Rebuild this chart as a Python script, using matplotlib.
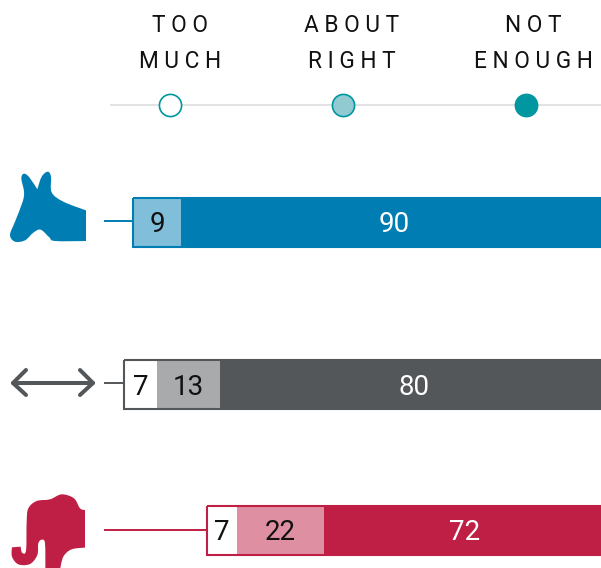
import matplotlib
matplotlib.use("Agg")
import matplotlib.pyplot as plt
from matplotlib.path import Path
from matplotlib.patches import PathPatch

plt.rcParams['font.family'] = ['Roboto', 'DejaVu Sans']

# Printed labels
groups = ["Democrats", "Independents", "Republicans"]
too_much = [9, 7, 7]
about_right = [None, 13, 22]
not_enough = [90, 80, 72]
# Bar lengths as drawn in the picture (the graphic's lengths differ a little from its labels)
start_drawn = [1.9, 0.0, 17.1]
too_much_drawn = [9.9, 6.8, 6.2]
about_right_drawn = [0.0, 13.0, 17.9]
not_enough_drawn = [87.8, 80.0, 58.1]
headers = ["T O O\nM U C H", "A B O U T\nR I G H T", "N O T\nE N O U G H"]

W, H = 601, 568
PX = 4.85
ROW_Y = [222, 384.7, 530.3]
LINK_Y = [221.3, 383.3, 530]
DARK = ["#007db3", "#54575a", "#c01f45"]
MID = ["#80bed9", "#a9aaac", "#df8fa2"]
LIGHT = ["#80bed9", "#ffffff", "#ffffff"]

fig = plt.figure(figsize=(W / 100, H / 100), dpi=100)
px = fig.add_axes([0, 0, 1, 1])
px.set_xlim(0, W); px.set_ylim(H, 0); px.axis("off")
ax = fig.add_axes([0, 0, 1, 1], sharey=px)
ax.set_xlim(-124 / PX, (W - 124) / PX)
ax.axis("off"); ax.patch.set_alpha(0)


def blob(points, color, oy=0):
    pts = [(x / 3, y / 3 + oy) for x, y in points]
    n = len(pts)
    v = [pts[0]]
    c = [Path.MOVETO]
    for i in range(n):
        p0, p1, p2, p3 = pts[i - 1], pts[i], pts[(i + 1) % n], pts[(i + 2) % n]
        if p1 == p2:
            continue
        c1 = (p1[0] + (p2[0] - p0[0]) / 6, p1[1] + (p2[1] - p0[1]) / 6)
        c2 = (p2[0] - (p3[0] - p1[0]) / 6, p2[1] - (p3[1] - p1[1]) / 6)
        if p0 == p1:
            c1 = p1
        if p2 == p3:
            c2 = p2
        v += [c1, c2, p2]
        c += [Path.CURVE4] * 3
    px.add_patch(PathPatch(Path(v, c), fc=color, ec="none"))


donkey = [(30, 225), (45, 185), (68, 125), (72, 95), (64, 55), (72, 41), (88, 52), (112, 88), (112, 88),
          (125, 50), (143, 35), (153, 50), (155, 97), (190, 125), (258, 151), (258, 151), (258, 243), (258, 243),
          (165, 243), (148, 232), (122, 209), (100, 218), (75, 241), (45, 245)]
elephant = [(80, 125), (85, 85), (110, 63), (150, 58), (185, 43), (222, 55), (240, 85), (255, 90), (255, 90),
            (255, 203), (255, 203), (215, 208), (190, 230), (180, 270), (180, 270), (136, 270), (136, 270),
            (135, 190), (125, 179), (115, 190), (112, 225), (90, 252), (55, 253), (36, 230), (36, 202), (36, 202),
            (62, 200), (62, 200), (66, 218), (78, 212)]
blob(donkey, DARK[0], oy=160)
blob(elephant, DARK[2], oy=480)

for xs, ys in [([13, 93], [383, 383]), ([26, 13, 26], [370, 383, 395]), ([80, 93, 80], [370, 383, 395])]:
    px.plot(xs, ys, color=DARK[1], lw=2.9, solid_capstyle="round", solid_joinstyle="round")

px.plot([111, W], [105, 105], color="#dddddd", lw=1.2, zorder=1)
centers = [169.5, 342.5, 525.5]
label_x = [180, 352, 533]
for cx, lx, fc, label in zip(centers, label_x, ["#ffffff", "#91cbd1", "#0097a0"], headers):
    px.scatter([cx], [105], s=255, fc=fc, ec="#0097a0", lw=1.2, zorder=2)
    l1, l2 = label.split("\n")
    for t, y in ((l1, 25.5), (l2, 62)):
        px.text(lx, y, t, ha="center", va="center", fontsize=16.3, color="#111111")

h = 49
for i, y in enumerate(ROW_Y):
    s = start_drawn[i]
    a, b, c = too_much_drawn[i], about_right_drawn[i], not_enough_drawn[i]
    startpx = 124 + s * PX
    px.plot([105, startpx], [LINK_Y[i]] * 2, color=DARK[i], lw=1.4, zorder=1)
    ax.barh(y, c, left=s + a + b, height=h, color=DARK[i], lw=0)
    if b:
        ax.barh(y, b, left=s + a, height=h, color=MID[i], lw=0)
    ax.barh(y, a, left=s, height=h, color=LIGHT[i], lw=0)
    ax.barh(y, a + b + c, left=s, height=h, color="none", ec=DARK[i], lw=1.5, zorder=3)
    ax.text(s + a / 2, y + 2.5, str(too_much[i]), ha="center", va="center", fontsize=20, color="#111111", zorder=4)
    if about_right[i] is not None:
        ax.text(s + a + b / 2, y + 2.5, str(about_right[i]), ha="center", va="center", fontsize=20, color="#111111", zorder=4)
    ax.text(s + a + b + c / 2, y + 2.5, str(not_enough[i]), ha="center", va="center", fontsize=20, color="#ffffff", zorder=4)

ax.set_ylim(H, 0)
fig.savefig("out.png", dpi=100)
